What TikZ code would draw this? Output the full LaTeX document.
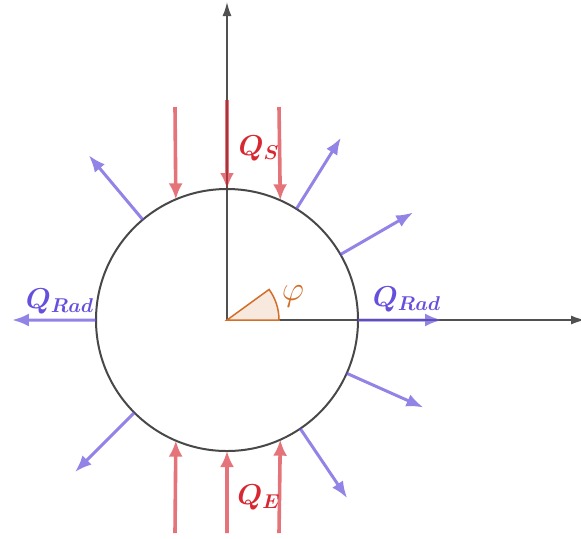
\documentclass[tikz,border=0pt]{standalone}
\usepackage{amsmath}
\usepackage{xcolor}
\usetikzlibrary{arrows.meta, positioning, calc}

\definecolor{sunred}{RGB}{215,40,50}
\definecolor{radblue}{RGB}{100,80,220}
\definecolor{anglecol}{RGB}{210,110,40}
\definecolor{axisgray}{RGB}{80,80,80}

\begin{document}
\begin{tikzpicture}[
x=0.5pt, y=0.5pt,
axis/.style={
draw=axisgray,
line width=0.75pt,
-{Latex[length=7pt,width=4.5pt]}
},
heat/.style={
draw=sunred,
line width=1.8pt,
-{Latex[length=8pt,width=7pt]}
},
rad/.style={
draw=radblue,
line width=1.5pt,
-{Latex[length=8.5pt,width=6.5pt]}
},
lbl/.style={
font=\Large,
inner sep=1pt
}
]
\useasboundingbox (-227,-218) rectangle (354,320);

% Axes
\coordinate (O) at (0,0);
\coordinate (ytop) at (0,318);
\coordinate (xend) at (358,0);
\draw[axis] (O) -- (ytop);
\draw[axis] (O) -- (xend);

% Body
\node[circle,draw=axisgray!90!black,line width=1pt,minimum size=131pt,
inner sep=0pt,outer sep=0pt] (ball) at (O) {};

% Angle
\filldraw[fill=anglecol!15,draw=anglecol,line width=0.75pt]
(O) -- (52,0) arc[start angle=0,end angle=36,radius=52] -- cycle;
\node[lbl,font=\LARGE,text=anglecol] (phi) at (66,24) {$\varphi$};

% Incoming heat
\coordinate (s1) at (-52,213);
\coordinate (s2) at (0,220);
\coordinate (s3) at (52,213);
\coordinate (e1) at (-52,-213);
\coordinate (e2) at (0,-213);
\coordinate (e3) at (52,-213);
\begin{scope}[transparency group, opacity=0.65]
\draw[heat] (s1) -- (ball.113.4);
\draw[heat] (s2) -- (ball.north);
\draw[heat] (s3) -- (ball.66.6);
\draw[heat] (e1) -- (ball.-113.4);
\draw[heat] (e2) -- (ball.south);
\draw[heat] (e3) -- (ball.-66.6);
\end{scope}
\node[lbl,text=sunred] (qs) at (32,172) {$\boldsymbol{Q_S}$};
\node[lbl,text=sunred] (qe) at (32,-177) {$\boldsymbol{Q_E}$};

% Radiation
\begin{scope}[transparency group, opacity=0.7]
\foreach \a in {0,30,58,130,180,-135,-56,-24}{
\coordinate (r\a) at (\a:215);
\draw[rad] (ball.\a) -- (r\a);
}
\end{scope}
\node[lbl,text=radblue] (qradr) at (180,21) {$\boldsymbol{Q_{Rad}}$};
\node[lbl,text=radblue] (qradl) at (-167,19) {$\boldsymbol{Q_{Rad}}$};

\end{tikzpicture}
\end{document}
